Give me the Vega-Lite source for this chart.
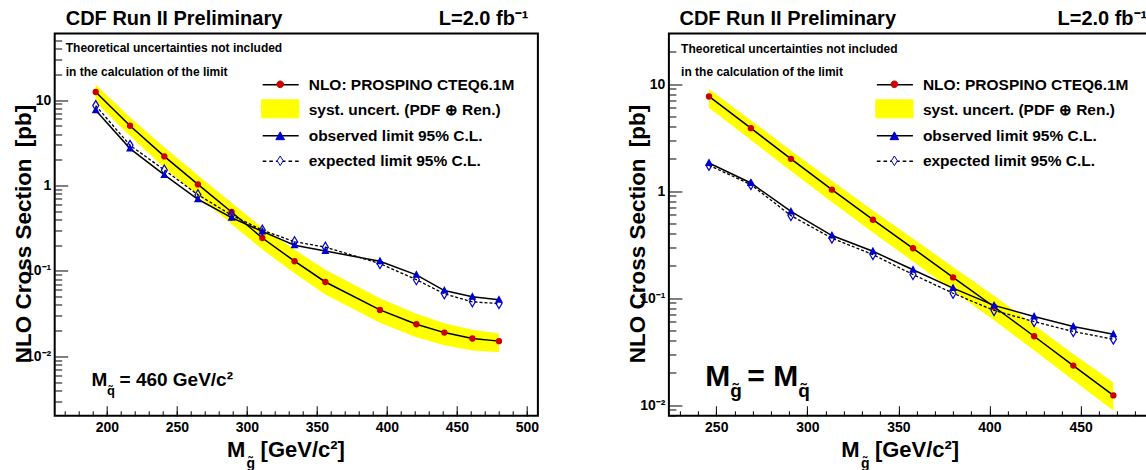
{
  "$schema": "https://vega.github.io/schema/vega-lite/v6.json",
  "background": "white",
  "padding": {"left": 10.7, "top": 7.5, "right": 0, "bottom": 0},
  "bounds": "flush",
  "spacing": 130.2,
  "config": {
    "view": {"stroke": "black", "strokeWidth": 2},
    "font": "Liberation Sans",
    "axis": {"domain": false, "grid": false, "tickColor": "black", "tickWidth": 1, "labelColor": "black", "labelFont": "Liberation Sans", "labelFontWeight": "bold", "titleFont": "Liberation Sans", "titleFontWeight": "bold", "titleColor": "black", "labelFlush": false, "labelOverlap": false},
    "legend": {"orient": "none", "title": null, "padding": 0, "symbolOffset": 0, "symbolSize": 576, "symbolStrokeWidth": 1.5, "symbolOpacity": 1, "labelFont": "Liberation Sans", "labelFontWeight": "bold", "labelFontSize": 15.5, "labelColor": "black", "labelOffset": 15, "labelLimit": 500, "rowPadding": 3.5, "legendX": 213, "legendY": 38.3},
    "text": {"font": "Liberation Sans", "fontWeight": "bold", "color": "black"}
  },
  "datasets": {
    "left_nlo": [
      {"m": 192, "xs": 12.4, "up": 15.2, "lo": 9.5},
      {"m": 216.5, "xs": 5.0, "up": 6.3, "lo": 3.8},
      {"m": 241, "xs": 2.19, "up": 2.8, "lo": 1.62},
      {"m": 265, "xs": 1.03, "up": 1.32, "lo": 0.76},
      {"m": 289, "xs": 0.49, "up": 0.63, "lo": 0.355},
      {"m": 311, "xs": 0.243, "up": 0.32, "lo": 0.178},
      {"m": 334, "xs": 0.13, "up": 0.178, "lo": 0.094},
      {"m": 356, "xs": 0.0743, "up": 0.103, "lo": 0.053},
      {"m": 395, "xs": 0.035, "up": 0.048, "lo": 0.0248},
      {"m": 421, "xs": 0.0238, "up": 0.0315, "lo": 0.0168},
      {"m": 441, "xs": 0.019, "up": 0.0245, "lo": 0.0135},
      {"m": 461, "xs": 0.0162, "up": 0.0205, "lo": 0.0117},
      {"m": 480, "xs": 0.0151, "up": 0.0185, "lo": 0.0112}
    ],
    "left_lim": [
      {"m": 192, "obs": 7.6, "exp": 8.6},
      {"m": 216.5, "obs": 2.7, "exp": 2.95},
      {"m": 241, "obs": 1.33, "exp": 1.52},
      {"m": 265, "obs": 0.69, "exp": 0.78},
      {"m": 289, "obs": 0.42, "exp": 0.45},
      {"m": 311, "obs": 0.29, "exp": 0.3},
      {"m": 334, "obs": 0.2, "exp": 0.22},
      {"m": 356, "obs": 0.171, "exp": 0.19},
      {"m": 395, "obs": 0.13, "exp": 0.122},
      {"m": 421, "obs": 0.09, "exp": 0.079},
      {"m": 441, "obs": 0.059, "exp": 0.054},
      {"m": 461, "obs": 0.05, "exp": 0.0435},
      {"m": 480, "obs": 0.046, "exp": 0.0415}
    ],
    "right_nlo": [
      {"m": 246, "xs": 7.66, "up": 9.0, "lo": 6.0},
      {"m": 269, "xs": 3.87, "up": 4.6, "lo": 3.0},
      {"m": 291, "xs": 2.0, "up": 2.4, "lo": 1.54},
      {"m": 313.5, "xs": 1.03, "up": 1.25, "lo": 0.79},
      {"m": 336, "xs": 0.54, "up": 0.66, "lo": 0.41},
      {"m": 358, "xs": 0.292, "up": 0.36, "lo": 0.22},
      {"m": 380, "xs": 0.156, "up": 0.195, "lo": 0.117},
      {"m": 402.5, "xs": 0.083, "up": 0.105, "lo": 0.062},
      {"m": 424.5, "xs": 0.044, "up": 0.056, "lo": 0.0325},
      {"m": 446, "xs": 0.0234, "up": 0.03, "lo": 0.0171},
      {"m": 468, "xs": 0.0123, "up": 0.0163, "lo": 0.0089}
    ],
    "right_lim": [
      {"m": 246, "obs": 1.83, "exp": 1.74},
      {"m": 269, "obs": 1.19, "exp": 1.15},
      {"m": 291, "obs": 0.645, "exp": 0.59},
      {"m": 313.5, "obs": 0.384, "exp": 0.363},
      {"m": 336, "obs": 0.274, "exp": 0.255},
      {"m": 358, "obs": 0.184, "exp": 0.166},
      {"m": 380, "obs": 0.124, "exp": 0.111},
      {"m": 402.5, "obs": 0.0854, "exp": 0.0766},
      {"m": 424.5, "obs": 0.0673, "exp": 0.0603},
      {"m": 446, "obs": 0.0542, "exp": 0.0487},
      {"m": 468, "obs": 0.046, "exp": 0.0413}
    ],
    "legend_rows": [
      {"series": "NLO: PROSPINO CTEQ6.1M"},
      {"series": "syst. uncert. (PDF ⊕ Ren.)"},
      {"series": "observed limit 95% C.L."},
      {"series": "expected limit 95% C.L."}
    ]
  },
  "resolve": {"scale": {"shape": "independent", "fill": "independent", "stroke": "independent"}},
  "hconcat": [
    {
      "width": 483.2,
      "height": 382.3,
      "resolve": {"scale": {"shape": "independent", "fill": "independent", "stroke": "independent"}, "axis": {"x": "independent", "y": "independent"}},
      "layer": [
        {
          "data": {"name": "left_nlo"},
          "mark": {"type": "area", "color": "#ffff00", "opacity": 1},
          "encoding": {
            "x": {"field": "m", "type": "quantitative", "scale": {"domain": [162.7, 507.8], "nice": false, "zero": false},
              "axis": {"orient": "bottom", "values": [200, 250, 300, 350, 400, 450, 500], "tickSize": -10, "labelPadding": 15, "labelFontSize": 14, "title": "M\u2002\u2009[GeV/c²]", "titleFontSize": 22, "titleX": 230.7, "titleY": 40.5, "titleAlign": "center", "titleBaseline": "alphabetic"}},
            "y": {"field": "up", "type": "quantitative", "scale": {"type": "log", "domain": [0.00202, 60], "nice": false},
              "axis": {"orient": "left", "values": [0.01, 0.1, 1, 10], "labelExpr": "datum.value >= 9 ? '10' : datum.value >= 0.9 ? '1' : datum.value >= 0.09 ? '10⁻¹' : '10⁻²'", "tickSize": -13, "labelPadding": 17, "labelFontSize": 14, "title": "NLO Cross Section\u2002[pb]", "titleFontSize": 22.5, "titleX": -31.3, "titleY": 200, "titleAngle": -90, "titleAlign": "center", "titleBaseline": "middle"}},
            "y2": {"field": "lo"}
          }
        },
        {
          "data": {"name": "left_nlo"},
          "mark": {"type": "line", "color": "black", "strokeWidth": 1.5},
          "encoding": {
            "x": {"field": "m", "type": "quantitative", "axis": {"orient": "bottom", "values": [170, 180, 190, 200, 210, 220, 230, 240, 250, 260, 270, 280, 290, 300, 310, 320, 330, 340, 350, 360, 370, 380, 390, 400, 410, 420, 430, 440, 450, 460, 470, 480, 490, 500], "labels": false, "tickSize": -5, "title": null}},
            "y": {"field": "xs", "type": "quantitative", "axis": {"orient": "left", "values": [0.003, 0.004, 0.005, 0.006, 0.007, 0.008, 0.009, 0.02, 0.03, 0.04, 0.05, 0.06, 0.07, 0.08, 0.09, 0.2, 0.3, 0.4, 0.5, 0.6, 0.7, 0.8, 0.9, 2, 3, 4, 5, 6, 7, 8, 9, 20, 30, 40, 50], "labels": false, "tickSize": -7, "title": null}}
          }
        },
        {
          "data": {"name": "left_lim"},
          "mark": {"type": "line", "color": "black", "strokeWidth": 1.5},
          "encoding": {
            "x": {"field": "m", "type": "quantitative", "axis": null},
            "y": {"field": "obs", "type": "quantitative", "axis": null}
          }
        },
        {
          "data": {"name": "left_lim"},
          "mark": {"type": "line", "color": "black", "strokeWidth": 1.3, "strokeDash": [3, 2]},
          "encoding": {
            "x": {"field": "m", "type": "quantitative", "axis": null},
            "y": {"field": "exp", "type": "quantitative", "axis": null}
          }
        },
        {
          "data": {"name": "left_nlo"},
          "mark": {"type": "point", "shape": "circle", "filled": true, "color": "#cc0000", "size": 40, "opacity": 1},
          "encoding": {
            "x": {"field": "m", "type": "quantitative", "axis": null},
            "y": {"field": "xs", "type": "quantitative", "axis": null}
          }
        },
        {
          "data": {"name": "left_lim"},
          "mark": {"type": "point", "shape": "M0,-0.9L0.8,0.6H-0.8Z", "filled": true, "color": "#0000cc", "size": 100, "opacity": 1},
          "encoding": {
            "x": {"field": "m", "type": "quantitative", "axis": null},
            "y": {"field": "obs", "type": "quantitative", "axis": null}
          }
        },
        {
          "data": {"name": "left_lim"},
          "mark": {"type": "point", "shape": "M0,-1L0.6,0L0,1L-0.6,0Z", "filled": false, "stroke": "#0000cc", "strokeWidth": 1.2, "size": 100, "opacity": 1},
          "encoding": {
            "x": {"field": "m", "type": "quantitative", "axis": null},
            "y": {"field": "exp", "type": "quantitative", "axis": null}
          }
        },
        {
          "data": {"name": "legend_rows"},
          "mark": {"type": "point", "opacity": 0},
          "encoding": {
            "shape": {"field": "series", "type": "nominal", "scale": {"domain": ["NLO: PROSPINO CTEQ6.1M", "syst. uncert. (PDF ⊕ Ren.)", "observed limit 95% C.L.", "expected limit 95% C.L."], "range": ["M-1.5,0H1.5", "M-1.5,0H1.5", "M-1.5,0H1.5", "M-1.5,0H-1.2M-0.95,0H-0.65M-0.4,0H0.4M0.65,0H0.95M1.2,0H1.5"]}, "legend": {"symbolStrokeWidth": 1.5}},
            "stroke": {"field": "series", "type": "nominal", "scale": {"domain": ["NLO: PROSPINO CTEQ6.1M", "syst. uncert. (PDF ⊕ Ren.)", "observed limit 95% C.L.", "expected limit 95% C.L."], "range": ["black", "transparent", "black", "black"]}, "legend": {"symbolStrokeWidth": 1.5}}
          }
        },
        {
          "data": {"name": "legend_rows"},
          "mark": {"type": "point", "opacity": 0},
          "encoding": {
            "shape": {"field": "series", "type": "nominal", "scale": {"domain": ["NLO: PROSPINO CTEQ6.1M", "syst. uncert. (PDF ⊕ Ren.)", "observed limit 95% C.L.", "expected limit 95% C.L."], "range": ["M0.28,0A0.28,0.28 0 1,1 -0.28,0A0.28,0.28 0 1,1 0.28,0Z", "M-1.55,-0.75H1.55V0.75H-1.55Z", "M0,-0.37L0.36,0.28H-0.36Z", "M0,-0.4L0.25,0L0,0.4L-0.25,0Z"]}, "legend": {"symbolStrokeWidth": 1, "labelOpacity": 0}},
            "fill": {"field": "series", "type": "nominal", "scale": {"domain": ["NLO: PROSPINO CTEQ6.1M", "syst. uncert. (PDF ⊕ Ren.)", "observed limit 95% C.L.", "expected limit 95% C.L."], "range": ["#cc0000", "#ffff00", "#0000cc", "white"]}, "legend": {"symbolStrokeWidth": 1, "labelOpacity": 0}},
            "stroke": {"field": "series", "type": "nominal", "scale": {"domain": ["NLO: PROSPINO CTEQ6.1M", "syst. uncert. (PDF ⊕ Ren.)", "observed limit 95% C.L.", "expected limit 95% C.L."], "range": ["#cc0000", "#ffff00", "#0000cc", "#0000cc"]}, "legend": {"symbolStrokeWidth": 1, "labelOpacity": 0}}
          }
        },
        {
          "data": {"values": [{}]},
          "mark": {"type": "text", "align": "left", "baseline": "alphabetic", "fontSize": 20},
          "encoding": {"x": {"datum": 170.6, "type": "quantitative", "axis": null}, "y": {"datum": 75, "type": "quantitative", "axis": null}, "text": {"value": "CDF Run II Preliminary"}}
        },
        {
          "data": {"values": [{}]},
          "mark": {"type": "text", "align": "left", "baseline": "middle", "fontSize": 12},
          "encoding": {"x": {"datum": 170.6, "type": "quantitative", "axis": null}, "y": {"datum": 40.1, "type": "quantitative", "axis": null}, "text": {"value": "Theoretical uncertainties not included"}}
        },
        {
          "data": {"values": [{}]},
          "mark": {"type": "text", "align": "left", "baseline": "middle", "fontSize": 12},
          "encoding": {"x": {"datum": 170.6, "type": "quantitative", "axis": null}, "y": {"datum": 21.4, "type": "quantitative", "axis": null}, "text": {"value": "in the calculation of the limit"}}
        },
        {
          "data": {"values": [{}]},
          "mark": {"type": "text", "align": "right", "baseline": "alphabetic", "fontSize": 20},
          "encoding": {"x": {"datum": 501.1, "type": "quantitative", "axis": null}, "y": {"datum": 75, "type": "quantitative", "axis": null}, "text": {"value": "L=2.0 fb⁻¹"}}
        },
        {
          "data": {"values": [{}]},
          "mark": {"type": "text", "align": "left", "baseline": "alphabetic", "fontSize": 19},
          "encoding": {"x": {"datum": 189, "type": "quantitative", "axis": null}, "y": {"datum": 0.00454, "type": "quantitative", "axis": null}, "text": {"value": "M"}}
        },
        {
          "data": {"values": [{}]},
          "mark": {"type": "text", "align": "left", "baseline": "alphabetic", "fontSize": 13, "dx": 15.5, "dy": 9},
          "encoding": {"x": {"datum": 189, "type": "quantitative", "axis": null}, "y": {"datum": 0.00454, "type": "quantitative", "axis": null}, "text": {"value": "q̃"}}
        },
        {
          "data": {"values": [{}]},
          "mark": {"type": "text", "align": "left", "baseline": "alphabetic", "fontSize": 19, "dx": 28},
          "encoding": {"x": {"datum": 189, "type": "quantitative", "axis": null}, "y": {"datum": 0.00454, "type": "quantitative", "axis": null}, "text": {"value": "= 460 GeV/c²"}}
        },
        {
          "data": {"values": [{}]},
          "mark": {"type": "text", "align": "center", "baseline": "middle", "fontSize": 14},
          "encoding": {"x": {"datum": 302.8, "type": "quantitative", "axis": null}, "y": {"datum": 0.000556, "type": "quantitative", "axis": null}, "text": {"value": "g̃"}}
        }
      ]
    },
    {
      "width": 488,
      "height": 382.3,
      "resolve": {"scale": {"shape": "independent", "fill": "independent", "stroke": "independent"}, "axis": {"x": "independent", "y": "independent"}},
      "layer": [
        {
          "data": {"name": "right_nlo"},
          "mark": {"type": "area", "color": "#ffff00", "opacity": 1},
          "encoding": {
            "x": {"field": "m", "type": "quantitative", "scale": {"domain": [224.0, 491.9], "nice": false, "zero": false},
              "axis": {"orient": "bottom", "values": [250, 300, 350, 400, 450], "tickSize": -10, "labelPadding": 15, "labelFontSize": 14, "title": "M\u2002\u2009[GeV/c²]", "titleFontSize": 22, "titleX": 230.8, "titleY": 40.5, "titleAlign": "center", "titleBaseline": "alphabetic"}},
            "y": {"field": "up", "type": "quantitative", "scale": {"type": "log", "domain": [0.00794, 29.7], "nice": false},
              "axis": {"orient": "left", "values": [0.01, 0.1, 1, 10], "labelExpr": "datum.value >= 9 ? '10' : datum.value >= 0.9 ? '1' : datum.value >= 0.09 ? '10⁻¹' : '10⁻²'", "tickSize": -13, "labelPadding": 17, "labelFontSize": 14, "title": "NLO Cross Section\u2002[pb]", "titleFontSize": 22.5, "titleX": -31.3, "titleY": 200, "titleAngle": -90, "titleAlign": "center", "titleBaseline": "middle"}},
            "y2": {"field": "lo"}
          }
        },
        {
          "data": {"name": "right_nlo"},
          "mark": {"type": "line", "color": "black", "strokeWidth": 1.5},
          "encoding": {
            "x": {"field": "m", "type": "quantitative", "axis": {"orient": "bottom", "values": [230, 240, 250, 260, 270, 280, 290, 300, 310, 320, 330, 340, 350, 360, 370, 380, 390, 400, 410, 420, 430, 440, 450, 460, 470, 480, 490], "labels": false, "tickSize": -5, "title": null}},
            "y": {"field": "xs", "type": "quantitative", "axis": {"orient": "left", "values": [0.008, 0.009, 0.02, 0.03, 0.04, 0.05, 0.06, 0.07, 0.08, 0.09, 0.2, 0.3, 0.4, 0.5, 0.6, 0.7, 0.8, 0.9, 2, 3, 4, 5, 6, 7, 8, 9, 20], "labels": false, "tickSize": -7, "title": null}}
          }
        },
        {
          "data": {"name": "right_lim"},
          "mark": {"type": "line", "color": "black", "strokeWidth": 1.5},
          "encoding": {
            "x": {"field": "m", "type": "quantitative", "axis": null},
            "y": {"field": "obs", "type": "quantitative", "axis": null}
          }
        },
        {
          "data": {"name": "right_lim"},
          "mark": {"type": "line", "color": "black", "strokeWidth": 1.3, "strokeDash": [3, 2]},
          "encoding": {
            "x": {"field": "m", "type": "quantitative", "axis": null},
            "y": {"field": "exp", "type": "quantitative", "axis": null}
          }
        },
        {
          "data": {"name": "right_nlo"},
          "mark": {"type": "point", "shape": "circle", "filled": true, "color": "#cc0000", "size": 40, "opacity": 1},
          "encoding": {
            "x": {"field": "m", "type": "quantitative", "axis": null},
            "y": {"field": "xs", "type": "quantitative", "axis": null}
          }
        },
        {
          "data": {"name": "right_lim"},
          "mark": {"type": "point", "shape": "M0,-0.9L0.8,0.6H-0.8Z", "filled": true, "color": "#0000cc", "size": 100, "opacity": 1},
          "encoding": {
            "x": {"field": "m", "type": "quantitative", "axis": null},
            "y": {"field": "obs", "type": "quantitative", "axis": null}
          }
        },
        {
          "data": {"name": "right_lim"},
          "mark": {"type": "point", "shape": "M0,-1L0.6,0L0,1L-0.6,0Z", "filled": false, "stroke": "#0000cc", "strokeWidth": 1.2, "size": 100, "opacity": 1},
          "encoding": {
            "x": {"field": "m", "type": "quantitative", "axis": null},
            "y": {"field": "exp", "type": "quantitative", "axis": null}
          }
        },
        {
          "data": {"name": "legend_rows"},
          "mark": {"type": "point", "opacity": 0},
          "encoding": {
            "shape": {"field": "series", "type": "nominal", "scale": {"domain": ["NLO: PROSPINO CTEQ6.1M", "syst. uncert. (PDF ⊕ Ren.)", "observed limit 95% C.L.", "expected limit 95% C.L."], "range": ["M-1.5,0H1.5", "M-1.5,0H1.5", "M-1.5,0H1.5", "M-1.5,0H-1.2M-0.95,0H-0.65M-0.4,0H0.4M0.65,0H0.95M1.2,0H1.5"]}, "legend": {"symbolStrokeWidth": 1.5}},
            "stroke": {"field": "series", "type": "nominal", "scale": {"domain": ["NLO: PROSPINO CTEQ6.1M", "syst. uncert. (PDF ⊕ Ren.)", "observed limit 95% C.L.", "expected limit 95% C.L."], "range": ["black", "transparent", "black", "black"]}, "legend": {"symbolStrokeWidth": 1.5}}
          }
        },
        {
          "data": {"name": "legend_rows"},
          "mark": {"type": "point", "opacity": 0},
          "encoding": {
            "shape": {"field": "series", "type": "nominal", "scale": {"domain": ["NLO: PROSPINO CTEQ6.1M", "syst. uncert. (PDF ⊕ Ren.)", "observed limit 95% C.L.", "expected limit 95% C.L."], "range": ["M0.28,0A0.28,0.28 0 1,1 -0.28,0A0.28,0.28 0 1,1 0.28,0Z", "M-1.55,-0.75H1.55V0.75H-1.55Z", "M0,-0.37L0.36,0.28H-0.36Z", "M0,-0.4L0.25,0L0,0.4L-0.25,0Z"]}, "legend": {"symbolStrokeWidth": 1, "labelOpacity": 0}},
            "fill": {"field": "series", "type": "nominal", "scale": {"domain": ["NLO: PROSPINO CTEQ6.1M", "syst. uncert. (PDF ⊕ Ren.)", "observed limit 95% C.L.", "expected limit 95% C.L."], "range": ["#cc0000", "#ffff00", "#0000cc", "white"]}, "legend": {"symbolStrokeWidth": 1, "labelOpacity": 0}},
            "stroke": {"field": "series", "type": "nominal", "scale": {"domain": ["NLO: PROSPINO CTEQ6.1M", "syst. uncert. (PDF ⊕ Ren.)", "observed limit 95% C.L.", "expected limit 95% C.L."], "range": ["#cc0000", "#ffff00", "#0000cc", "#0000cc"]}, "legend": {"symbolStrokeWidth": 1, "labelOpacity": 0}}
          }
        },
        {
          "data": {"values": [{}]},
          "mark": {"type": "text", "align": "left", "baseline": "alphabetic", "fontSize": 20},
          "encoding": {"x": {"datum": 229.8, "type": "quantitative", "axis": null}, "y": {"datum": 35.5, "type": "quantitative", "axis": null}, "text": {"value": "CDF Run II Preliminary"}}
        },
        {
          "data": {"values": [{}]},
          "mark": {"type": "text", "align": "left", "baseline": "middle", "fontSize": 12},
          "encoding": {"x": {"datum": 230.7, "type": "quantitative", "axis": null}, "y": {"datum": 21.5, "type": "quantitative", "axis": null}, "text": {"value": "Theoretical uncertainties not included"}}
        },
        {
          "data": {"values": [{}]},
          "mark": {"type": "text", "align": "left", "baseline": "middle", "fontSize": 12},
          "encoding": {"x": {"datum": 230.7, "type": "quantitative", "axis": null}, "y": {"datum": 13.0, "type": "quantitative", "axis": null}, "text": {"value": "in the calculation of the limit"}}
        },
        {
          "data": {"values": [{}]},
          "mark": {"type": "text", "align": "right", "baseline": "alphabetic", "fontSize": 20},
          "encoding": {"x": {"datum": 486.6, "type": "quantitative", "axis": null}, "y": {"datum": 35.5, "type": "quantitative", "axis": null}, "text": {"value": "L=2.0 fb⁻¹"}}
        },
        {
          "data": {"values": [{}]},
          "mark": {"type": "text", "align": "left", "baseline": "alphabetic", "fontSize": 30},
          "encoding": {"x": {"datum": 244, "type": "quantitative", "axis": null}, "y": {"datum": 0.0151, "type": "quantitative", "axis": null}, "text": {"value": "M"}}
        },
        {
          "data": {"values": [{}]},
          "mark": {"type": "text", "align": "left", "baseline": "alphabetic", "fontSize": 19, "dx": 25, "dy": 11},
          "encoding": {"x": {"datum": 244, "type": "quantitative", "axis": null}, "y": {"datum": 0.0151, "type": "quantitative", "axis": null}, "text": {"value": "g̃"}}
        },
        {
          "data": {"values": [{}]},
          "mark": {"type": "text", "align": "left", "baseline": "alphabetic", "fontSize": 30, "dx": 42},
          "encoding": {"x": {"datum": 244, "type": "quantitative", "axis": null}, "y": {"datum": 0.0151, "type": "quantitative", "axis": null}, "text": {"value": "= M"}}
        },
        {
          "data": {"values": [{}]},
          "mark": {"type": "text", "align": "left", "baseline": "alphabetic", "fontSize": 19, "dx": 93, "dy": 11},
          "encoding": {"x": {"datum": 244, "type": "quantitative", "axis": null}, "y": {"datum": 0.0151, "type": "quantitative", "axis": null}, "text": {"value": "q̃"}}
        },
        {
          "data": {"values": [{}]},
          "mark": {"type": "text", "align": "center", "baseline": "middle", "fontSize": 14},
          "encoding": {"x": {"datum": 331.8, "type": "quantitative", "axis": null}, "y": {"datum": 0.00282, "type": "quantitative", "axis": null}, "text": {"value": "g̃"}}
        }
      ]
    }
  ]
}
